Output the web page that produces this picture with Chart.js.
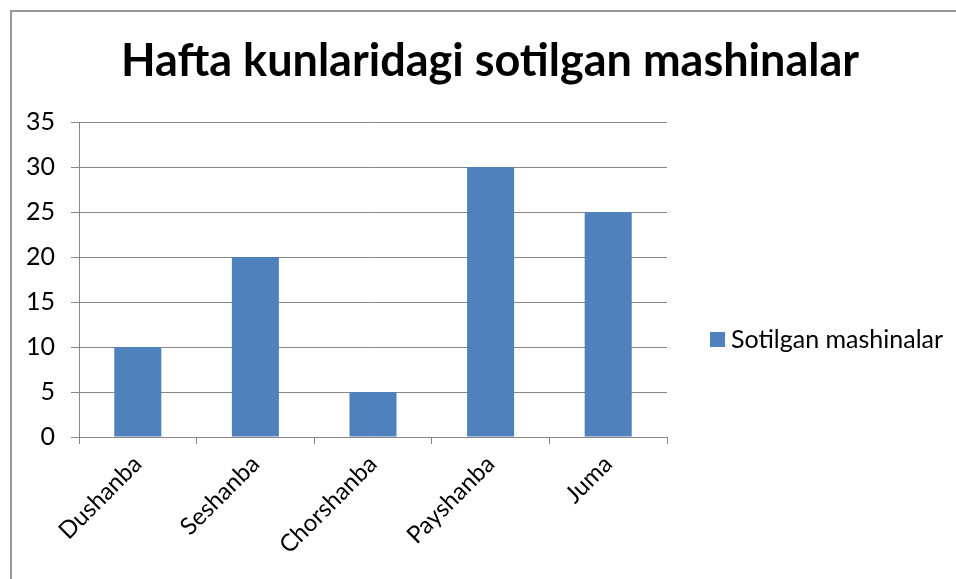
<!DOCTYPE html>
<html>
<head>
<meta charset="utf-8">
<script src="https://cdn.jsdelivr.net/npm/chart.js@4.4.1/dist/chart.umd.min.js"></script>
<style>
  html, body { margin: 0; padding: 0; background: #fff; }
  #wrap { position: absolute; left: 0; top: 0; width: 956px; height: 579px; }
  #frame { position: absolute; left: 10px; top: 10px; width: 960px; height: 600px;
           border-left: 2px solid #999; border-top: 2px solid #999; box-sizing: border-box; }
</style>
</head>
<body>
<div id="wrap">
  <div id="frame"></div>
  <canvas id="salesChart" width="956" height="579"></canvas>
</div>
<script>
// Chart data
const days = ['Dushanba', 'Seshanba', 'Chorshanba', 'Payshanba', 'Juma'];
const soldCars = [10, 20, 5, 30, 25];
const seriesName = 'Sotilgan mashinalar';
const chartTitle = 'Hafta kunlaridagi sotilgan mashinalar';

const barColor = '#4F81BD';
const gridColor = '#868686';
const fontFamily = 'Lato, "Open Sans", sans-serif';

// Title centred over the whole chart (Excel style), not only the plot area
const wideTitle = {
  id: 'wideTitle',
  afterDraw(chart) {
    const c = chart.ctx;
    c.save();
    c.fillStyle = '#000';
    c.font = 'bold 45px ' + fontFamily;
    c.textAlign = 'center';
    c.textBaseline = 'middle';
    c.fillText(chartTitle, 490, 61);
    c.restore();
  }
};

// Simple legend drawn on the right, like the Excel one
const sideLegend = {
  id: 'sideLegend',
  afterDraw(chart) {
    const c = chart.ctx;
    const ds = chart.data.datasets[0];
    const x = 710, y = 340;
    c.save();
    c.fillStyle = ds.backgroundColor;
    c.fillRect(x, y - 8, 15, 15);
    c.fillStyle = '#000';
    c.font = '25px ' + fontFamily;
    c.textBaseline = 'middle';
    c.fillText(ds.label, x + 21, y);
    c.restore();
  }
};

var ctx = document.getElementById('salesChart').getContext('2d');

var salesChart = new Chart(ctx, {
  type: 'bar',
  data: {
    labels: days,
    datasets: [{
      label: seriesName,
      data: soldCars,
      backgroundColor: barColor,
      borderWidth: 0,
      barPercentage: 0.4,
      categoryPercentage: 1
    }]
  },
  options: {
    responsive: false,
    animation: false,
    layout: { padding: { left: 0, right: 289, top: 122, bottom: 0 } },
    plugins: {
      legend: { display: false },
      tooltip: { enabled: false },
      title: { display: false }
    },
    scales: {
      x: {
        grid: { drawOnChartArea: false, drawTicks: true, tickLength: 7, color: gridColor, offset: true },
        border: { display: true, color: gridColor, width: 1 },
        ticks: {
          color: '#000',
          font: { family: fontFamily, size: 24 },
          minRotation: 45,
          maxRotation: 45,
          padding: 6
        },
        afterFit(scale) { scale.height = 142; }
      },
      y: {
        min: 0,
        max: 35,
        ticks: {
          stepSize: 5,
          color: '#000',
          font: { family: fontFamily, size: 25 },
          padding: 16
        },
        grid: { color: gridColor, tickLength: 8 },
        border: { display: true, color: gridColor, width: 1 },
        afterFit(scale) { scale.width = 79; }
      }
    }
  },
  plugins: [wideTitle, sideLegend]
});
</script>
</body>
</html>
